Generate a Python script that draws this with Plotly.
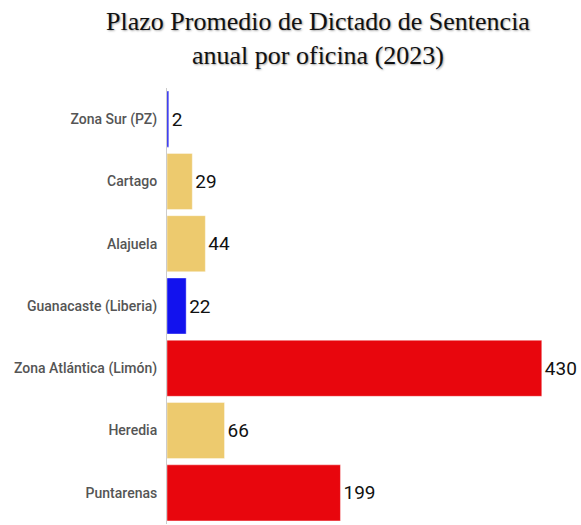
import plotly.graph_objects as go

categories = ["Zona Sur (PZ)", "Cartago", "Alajuela", "Guanacaste (Liberia)",
              "Zona Atlántica (Limón)", "Heredia", "Puntarenas"]
values = [2, 29, 44, 22, 430, 66, 199]
colors = ["#1212EE", "#EDCA6E", "#EDCA6E", "#1212EE", "#E8060D", "#EDCA6E", "#E8060D"]

fig = go.Figure(go.Bar(
    y=categories, x=values, orientation="h",
    marker=dict(color=colors, line=dict(color="rgba(255,255,255,0.4)", width=1)),
    text=[str(v) for v in values], textposition="outside", cliponaxis=False,
    textfont=dict(family="Roboto", size=19, color="#111"),
    width=0.9,
))

fig.update_layout(
    width=581, height=525,
    margin=dict(l=167, r=0, t=88, b=1),
    paper_bgcolor="white", plot_bgcolor="white",
    showlegend=False,
    title=dict(
        text="Plazo Promedio de Dictado de Sentencia<br>anual por oficina (2023)",
        x=318/581, xanchor="center", y=0.943, yanchor="top",
        font=dict(family="Liberation Serif", size=26, color="#111",
                  shadow="1px 1px 2px rgba(0,0,0,0.35)"),
    ),
    xaxis=dict(range=[0, 475], visible=False, showgrid=False, zeroline=False),
    yaxis=dict(autorange="reversed", showline=True, linecolor="#cccccc", linewidth=1,
               ticks="", ticklabelstandoff=6, showgrid=False,
               tickfont=dict(family="Roboto", size=14, color="#555", weight=500)),
)

fig.write_html("out.html")
